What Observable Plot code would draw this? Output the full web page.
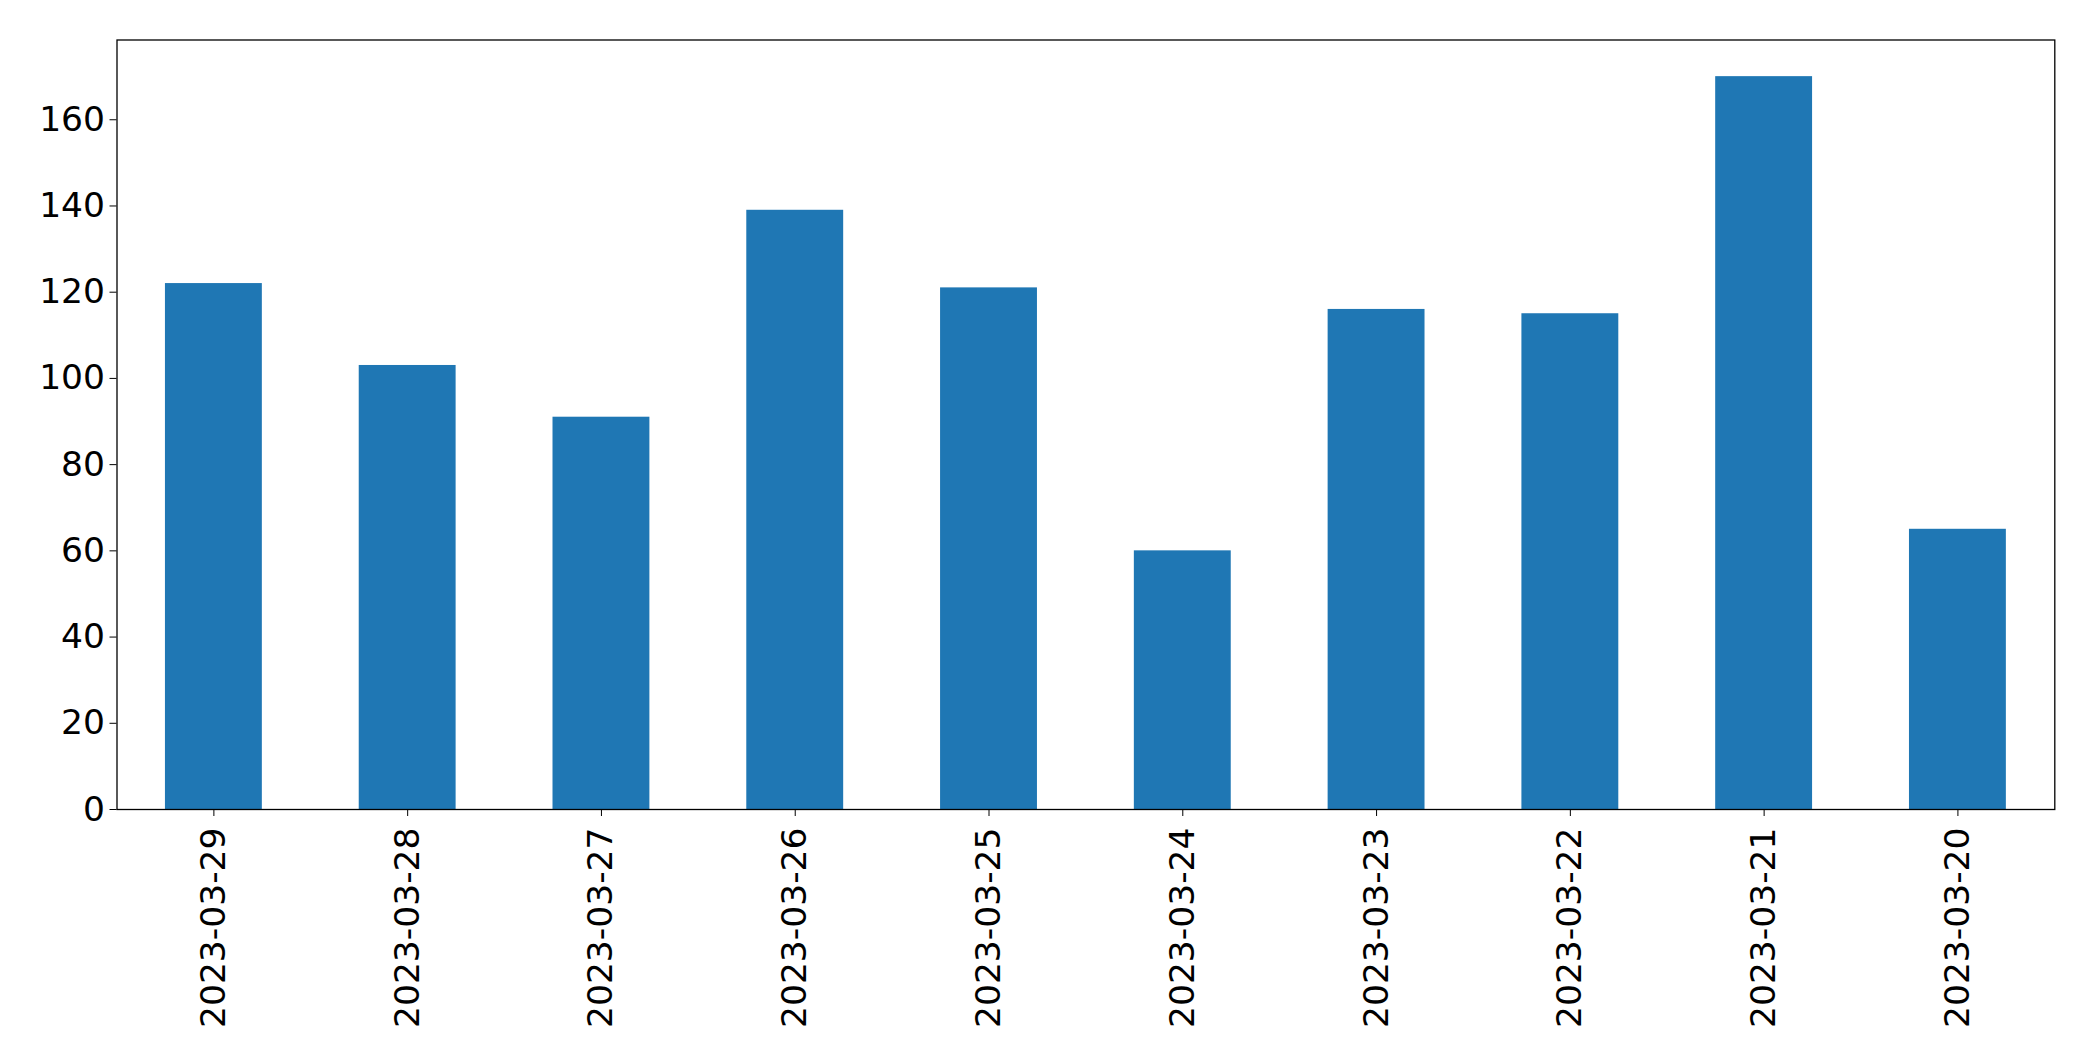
<!DOCTYPE html>
<html><head><meta charset="utf-8">
<script src="https://cdn.jsdelivr.net/npm/d3@7"></script>
<script src="https://cdn.jsdelivr.net/npm/@observablehq/plot@0.6"></script>
<style>body{margin:0;background:#fff}</style>
</head><body><div id="chart"></div>
<script>
const dates = ["2023-03-29","2023-03-28","2023-03-27","2023-03-26","2023-03-25","2023-03-24","2023-03-23","2023-03-22","2023-03-21","2023-03-20"];
const counts = [122, 103, 91, 139, 121, 60, 116, 115, 170, 65];
const yTicks = [0, 20, 40, 60, 80, 100, 120, 140, 160];

const data = dates.map((d, i) => ({date: d, count: counts[i]}));

const chart = Plot.plot({
  width: 2093,
  height: 1061,
  marginLeft: 116.5,
  marginRight: 38.7,
  marginTop: 39.5,
  marginBottom: 252,
  style: {fontFamily: "DejaVu Sans", fontSize: "34.5px", color: "black", background: "white"},
  x: {domain: dates, paddingInner: 0.5, paddingOuter: 0.25, round: false, label: null},
  y: {domain: [0, 178.5], label: null},
  marks: [
    Plot.barY(data, {x: "date", y: "count", fill: "#1f77b4", inset: 0}),
    Plot.frame({stroke: "black", strokeWidth: 1.3}),
    Plot.axisX({tickRotate: -90, tickSize: 7, tickPadding: 11, label: null, fontSize: 34.5}),
    Plot.axisY({ticks: yTicks, tickSize: 7, tickPadding: 5, label: null, fontSize: 34.5})
  ]
});
document.getElementById("chart").appendChild(chart);
</script>
</body></html>
